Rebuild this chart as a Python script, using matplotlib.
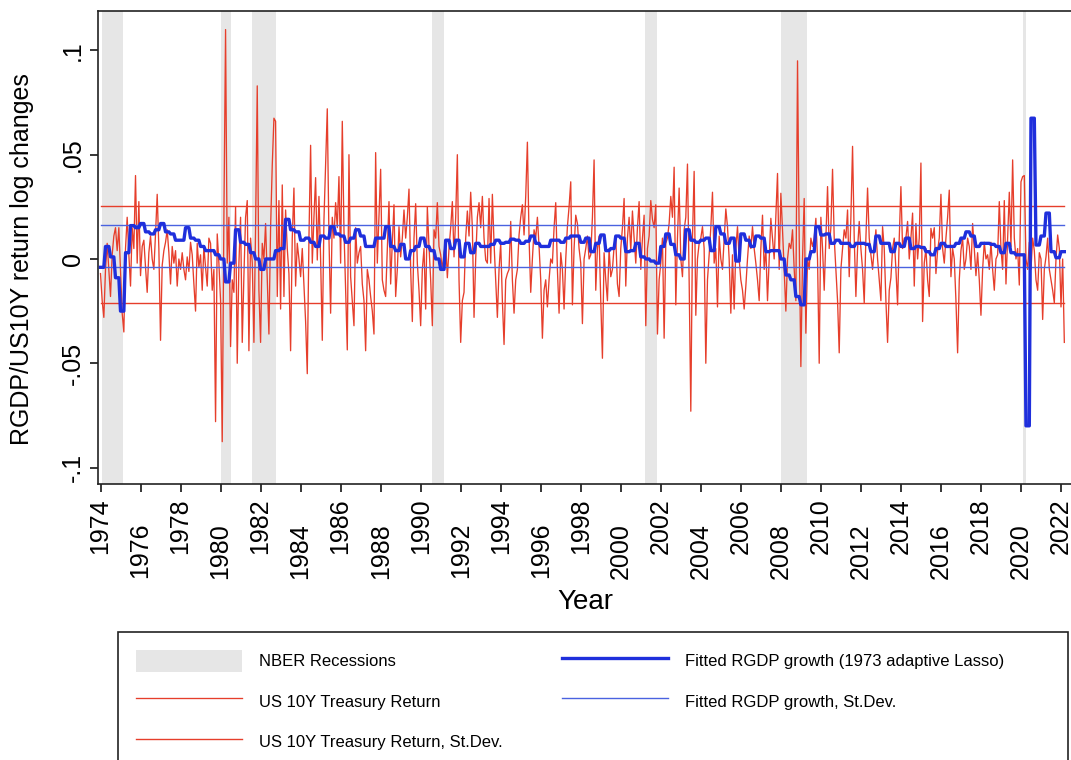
import numpy as np
import matplotlib
matplotlib.use("Agg")
import matplotlib.pyplot as plt
from matplotlib.patches import Rectangle

plt.rcParams['font.family'] = ['Liberation Sans', 'DejaVu Sans']

# US 10Y treasury monthly return (log change), Jan 1974 - Mar 2022, one row per year
tsy_rows = [
    [-0.007, -0.020, -0.028, -0.005, 0.0075, -0.005, -0.018, 0.002, 0.011, 0.015, 0.004, 0.015],
    [-0.005, -0.026, -0.035, 0.005, 0.020, 0.002, -0.013, 0.015, 0.005, 0.040, -0.002, 0.0275],
    [-0.008, 0.006, 0.009, -0.004, -0.016, 0.003, 0.011, 0.000, -0.005, 0.012, 0.031, 0.005],
    [-0.039, -0.003, 0.004, 0.008, 0.014, 0.003, -0.012, 0.006, -0.002, 0.004, -0.013, 0.000],
    [-0.005, 0.003, -0.005, -0.010, 0.001, -0.006, 0.008, 0.002, -0.012, -0.025, 0.0075, -0.004],
    [0.002, -0.015, 0.006, -0.004, -0.013, 0.010, 0.0075, -0.015, -0.005, -0.078, 0.012, -0.002],
    [-0.020, -0.0876, 0.020, 0.110, -0.002, 0.020, -0.042, -0.010, -0.016, 0.025, -0.050, -0.002],
    [0.020, -0.040, -0.008, 0.020, 0.028, -0.044, 0.010, -0.002, -0.040, 0.015, 0.083, -0.015],
    [-0.040, 0.0075, 0.000, 0.017, -0.010, -0.036, 0.015, 0.045, 0.0675, 0.066, -0.018, 0.028],
    [-0.024, 0.0355, -0.018, 0.0235, 0.005, -0.007, -0.044, 0.010, 0.034, -0.013, 0.0075, 0.000],
    [-0.0085, 0.005, -0.013, -0.030, -0.055, 0.010, 0.0545, -0.002, 0.020, 0.039, -0.0005, 0.030],
    [0.000, -0.039, 0.0187, 0.045, 0.072, 0.010, -0.026, 0.020, 0.010, 0.027, 0.015, 0.0395],
    [-0.002, 0.066, 0.014, -0.015, -0.0436, 0.050, -0.0085, -0.020, -0.032, 0.015, -0.002, 0.003],
    [0.006, -0.012, -0.020, -0.044, -0.005, -0.010, -0.018, -0.025, -0.036, 0.051, -0.002, 0.020],
    [0.043, -0.010, -0.015, -0.018, 0.005, 0.0275, -0.012, 0.008, 0.026, -0.018, -0.005, 0.0155],
    [0.001, 0.010, 0.0235, 0.010, 0.020, 0.0335, -0.005, -0.030, 0.010, 0.0265, -0.002, -0.015],
    [-0.032, -0.005, 0.005, -0.024, 0.025, 0.006, -0.010, -0.032, 0.014, 0.010, 0.027, 0.006],
    [0.002, -0.005, 0.003, 0.0075, -0.009, 0.005, 0.015, 0.0275, 0.001, 0.020, 0.050, -0.010],
    [-0.040, -0.020, -0.016, 0.010, 0.023, 0.011, 0.032, 0.015, -0.028, 0.000, 0.020, 0.027],
    [0.015, 0.030, 0.010, -0.0005, -0.002, 0.029, -0.002, 0.031, 0.0075, -0.010, -0.028, -0.005],
    [0.0075, -0.020, -0.041, -0.010, -0.007, -0.005, 0.018, -0.010, -0.026, -0.010, -0.005, 0.0115],
    [0.020, 0.026, 0.0115, 0.030, 0.056, 0.010, -0.016, 0.000, 0.014, 0.010, 0.020, 0.006],
    [-0.010, -0.038, -0.015, -0.010, -0.023, -0.010, 0.000, -0.002, 0.015, 0.027, -0.005, -0.026],
    [0.003, -0.005, -0.024, 0.000, 0.0155, 0.025, 0.037, -0.022, 0.005, 0.021, 0.017, 0.005],
    [-0.002, -0.031, 0.000, 0.005, 0.011, 0.000, 0.002, 0.020, 0.0475, -0.015, 0.005, 0.011],
    [-0.020, -0.0476, 0.003, -0.010, -0.020, 0.005, -0.0085, -0.005, 0.006, 0.010, -0.012, -0.018],
    [0.005, 0.015, 0.029, -0.013, 0.010, 0.020, 0.004, 0.023, 0.010, -0.002, 0.015, 0.0275],
    [-0.005, 0.010, 0.021, -0.032, 0.005, 0.011, 0.028, 0.019, 0.015, 0.026, -0.036, -0.010],
    [-0.002, 0.010, -0.038, 0.0075, 0.010, 0.017, 0.030, 0.020, 0.044, -0.022, 0.010, 0.034],
    [0.000, -0.0085, 0.014, 0.020, 0.0455, -0.010, -0.073, 0.010, 0.042, -0.027, 0.000, 0.0075],
    [0.010, 0.0155, 0.005, -0.050, -0.010, 0.002, 0.015, 0.032, -0.002, 0.005, -0.023, 0.011],
    [0.000, -0.005, 0.010, 0.024, 0.0155, 0.000, -0.026, 0.002, -0.024, 0.005, 0.0155, 0.000],
    [-0.010, -0.015, -0.024, -0.013, 0.000, 0.011, 0.005, 0.0155, 0.005, -0.002, -0.010, -0.020],
    [0.005, 0.021, -0.005, 0.005, -0.020, 0.000, 0.0195, 0.010, 0.000, 0.020, 0.041, -0.005],
    [0.0315, 0.014, -0.005, -0.025, 0.000, 0.0075, 0.005, 0.014, -0.005, -0.020, 0.095, 0.010],
    [-0.0516, 0.000, 0.029, -0.0356, 0.000, -0.005, 0.010, 0.006, 0.010, 0.0195, 0.000, -0.050],
    [0.020, 0.005, -0.015, 0.010, 0.0347, 0.005, 0.015, 0.043, 0.010, -0.005, -0.020, -0.045],
    [-0.005, 0.005, 0.014, 0.010, 0.0235, -0.0085, 0.020, 0.054, 0.010, -0.018, 0.005, 0.018],
    [0.005, -0.005, -0.021, 0.010, 0.034, 0.010, 0.002, -0.005, 0.005, 0.014, 0.000, -0.010],
    [-0.020, 0.0155, 0.005, -0.020, -0.040, -0.015, -0.009, 0.005, 0.010, -0.005, -0.022, 0.010],
    [0.0347, 0.005, 0.010, 0.010, 0.018, 0.000, 0.010, 0.022, -0.013, 0.017, 0.000, 0.010],
    [0.046, -0.030, -0.002, 0.005, -0.010, -0.018, 0.0147, 0.010, 0.015, -0.007, 0.004, 0.010],
    [0.031, 0.005, -0.002, 0.010, 0.020, 0.033, -0.0085, 0.005, 0.000, -0.020, -0.045, -0.010],
    [0.004, 0.010, -0.005, 0.000, 0.010, 0.006, -0.005, 0.017, 0.005, -0.008, 0.003, -0.010],
    [-0.027, -0.005, 0.008, 0.000, 0.002, -0.005, 0.008, -0.005, -0.015, 0.000, 0.002, 0.0275],
    [0.005, -0.005, 0.028, -0.012, 0.010, 0.032, 0.006, 0.0475, 0.010, 0.000, 0.005, -0.0125],
    [0.037, 0.0395, 0.040, 0.000, -0.005, 0.008, -0.005, 0.010, 0.004, -0.010, -0.015, 0.003],
    [0.000, -0.029, -0.005, 0.001, 0.010, -0.005, -0.010, -0.015, -0.021, 0.000, 0.0115, 0.005],
    [-0.023, 0.000, -0.040],
]

# fitted RGDP growth, quarterly, 1974Q1 - 2022Q1
gdp_rows = [
    [-0.004, 0.006, 0.001, -0.009], [-0.025, 0.003, 0.016, 0.015],
    [0.017, 0.013, 0.012, 0.014], [0.017, 0.013, 0.012, 0.009],
    [0.009, 0.015, 0.010, 0.009], [0.006, 0.004, 0.004, 0.002],
    [0.000, -0.011, -0.002, 0.014], [0.008, 0.007, 0.003, 0.000],
    [-0.005, 0.000, 0.000, 0.004], [0.005, 0.019, 0.014, 0.013],
    [0.009, 0.010, 0.008, 0.006], [0.011, 0.010, 0.0155, 0.012],
    [0.011, 0.008, 0.010, 0.014], [0.011, 0.006, 0.006, 0.010],
    [0.010, 0.0155, 0.006, 0.004], [0.007, 0.000, 0.004, 0.006],
    [0.010, 0.006, 0.004, 0.000], [-0.005, 0.009, 0.005, 0.009],
    [0.001, 0.0075, 0.003, 0.0075], [0.006, 0.006, 0.007, 0.009],
    [0.0075, 0.008, 0.0095, 0.009], [0.0075, 0.0085, 0.011, 0.0075],
    [0.006, 0.006, 0.009, 0.009], [0.008, 0.010, 0.011, 0.011],
    [0.008, 0.010, 0.0035, 0.0075], [0.0115, 0.004, 0.005, 0.011],
    [0.010, 0.0035, 0.004, 0.0075], [0.001, 0.000, -0.001, -0.002],
    [0.006, 0.012, 0.007, 0.002], [0.000, 0.014, 0.009, 0.008],
    [0.009, 0.010, 0.004, 0.0155], [0.012, 0.0075, 0.010, -0.001],
    [0.012, 0.009, 0.006, 0.011], [0.010, 0.0035, 0.004, 0.004],
    [0.000, -0.0077, -0.010, -0.018], [-0.022, 0.000, 0.0035, 0.0155],
    [0.0115, 0.012, 0.0075, 0.009], [0.0075, 0.0075, 0.006, 0.0075],
    [0.0075, 0.007, 0.0035, 0.011], [0.0075, 0.0075, 0.0035, 0.0075],
    [0.006, 0.010, 0.005, 0.006], [0.0055, 0.0035, 0.002, 0.005],
    [0.0075, 0.006, 0.006, 0.0075], [0.010, 0.013, 0.011, 0.006],
    [0.0075, 0.0075, 0.007, 0.006], [0.003, 0.0075, 0.003, 0.002],
    [0.002, -0.080, 0.0675, 0.0067], [0.011, 0.022, 0.0035, 0.0006],
    [0.0035],
]

# mean +/- one st.dev. lines
tsy_sd = [-0.0211, 0.0254]
gdp_sd = [-0.0038, 0.0163]

# NBER recessions (start, end) in years
recessions = [(1974.05, 1975.1), (1980.0, 1980.5), (1981.58, 1982.75), (1990.58, 1991.17),
              (2001.2, 2001.83), (2008.0, 2009.33), (2020.08, 2020.25)]

tsy = np.concatenate([np.array(r) for r in tsy_rows])
gdp = np.repeat(np.concatenate([np.array(r) for r in gdp_rows]), 3)[:len(tsy)]
t = 1974 + np.arange(len(tsy)) / 12.0

W, H = 1071, 760
fig = plt.figure(figsize=(W / 100, H / 100), dpi=100)
ax = fig.add_axes([98 / W, 1 - 484 / H, 1 - 98 / W, 473 / H])

red = '#e63e2b'
blue = '#1f2fdc'
blue_sd = '#4a62e0'

for i, (a, b) in enumerate(recessions):
    ax.axvspan(a, b, color='#e6e6e6', lw=0, zorder=0, label='NBER Recessions' if i == 0 else None)

ax.plot(t, tsy, color=red, lw=0.95, label='US 10Y Treasury Return', zorder=2)
for k, v in enumerate(tsy_sd):
    ax.plot([t[0], t[-1]], [v, v], color=red, lw=1.0, zorder=3,
            label='US 10Y Treasury Return, St.Dev.' if k == 0 else None)
ax.plot(t, gdp, color=blue, lw=2.4, label='Fitted RGDP growth (1973 adaptive Lasso)', zorder=5)
for k, v in enumerate(gdp_sd):
    ax.plot([t[0], t[-1]], [v, v], color=blue_sd, lw=1.0, zorder=4,
            label='Fitted RGDP growth, St.Dev.' if k == 0 else None)

ax.set_xlim(1973.875, 2022.5)
ax.set_ylim(-0.1079, 0.1189)

ax.spines['right'].set_visible(False)
for s in ['left', 'top', 'bottom']:
    ax.spines[s].set_linewidth(1.2)
    ax.spines[s].set_color('#222222')

yt = [-0.1, -0.05, 0, 0.05, 0.1]
ax.set_yticks(yt, ['-.1', '-.05', '0', '.05', '.1'])
ax.tick_params(axis='y', length=6, width=1.1, pad=3.5, labelsize=18, labelrotation=90)
for lbl in ax.get_yticklabels():
    lbl.set_va('center')

maj = np.arange(1974, 2023, 4)
mnr = np.arange(1976, 2021, 4)
ax.set_xticks(maj, [str(y) for y in maj])
ax.set_xticks(mnr, [str(y) for y in mnr], minor=True)
ax.tick_params(axis='x', which='both', length=6, width=1.1, labelsize=18, labelrotation=90)
ax.tick_params(axis='x', which='major', pad=4)
ax.tick_params(axis='x', which='minor', pad=22)

fig.text(22 / W, 1 - 259 / H, 'RGDP/US10Y return log changes', rotation=90,
         ha='center', va='center', fontsize=18)
fig.text(585 / W, 1 - 602 / H, 'Year', ha='center', va='center', fontsize=20)

handles, labels = ax.get_legend_handles_labels()
order = ['NBER Recessions', 'US 10Y Treasury Return', 'US 10Y Treasury Return, St.Dev.',
         'Fitted RGDP growth (1973 adaptive Lasso)', 'Fitted RGDP growth, St.Dev.']
hmap = dict(zip(labels, handles))
fig.legend([hmap[l] for l in order], order, loc='upper left',
           bbox_to_anchor=(118 / W, 1 - 632 / H), ncol=2, frameon=False, fontsize=12,
           handlelength=6.4, handleheight=1.7, handletextpad=1.0, columnspacing=3.55,
           borderpad=1.05, labelspacing=1.08, borderaxespad=0)
fig.add_artist(Rectangle((118 / W, -0.05), (1068 - 118) / W, 1 - 632 / H + 0.05,
                         transform=fig.transFigure, fill=False, lw=1.2, ec='#222222'))

fig.savefig('out.png', dpi=100)
